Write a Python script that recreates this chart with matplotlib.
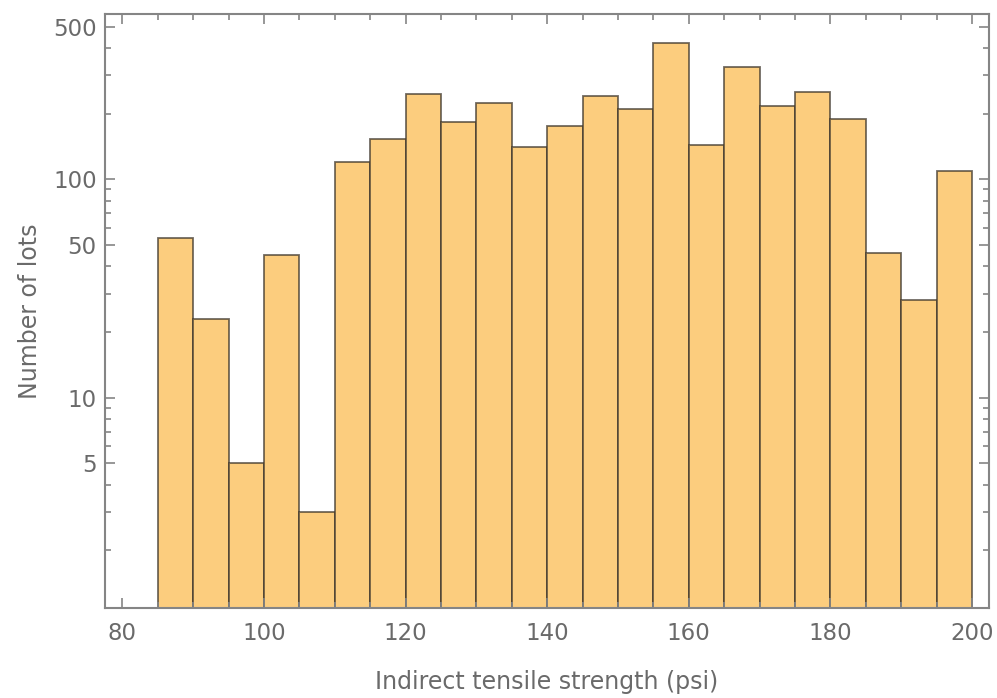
import numpy as np
import matplotlib
matplotlib.use('Agg')
import matplotlib.pyplot as plt
from matplotlib.ticker import FixedLocator, NullFormatter

# bin edges (psi) and counts
bin_left = [85, 90, 95, 100, 105, 110, 115, 120, 125, 130, 135, 140,
            145, 150, 155, 160, 165, 170, 175, 180, 185, 190, 195]
counts = [54, 23, 5, 45, 3, 120, 153, 246, 184, 224, 140, 175,
          241, 210, 421, 144, 326, 216, 252, 188, 46, 28, 109]
bin_width = 5

x_major = [80, 100, 120, 140, 160, 180, 200]
y_major = [5, 10, 50, 100, 500]
y_minor = [2, 3, 4, 6, 7, 8, 9, 20, 30, 40, 60, 70, 80, 90, 200, 300, 400]

axis_col = '#858585'
text_col = '#6a6a6a'

fig = plt.figure(figsize=(9.97, 6.98), dpi=100)
ax = fig.add_axes([0.1053, 0.129, 0.8867, 0.851])

ax.bar(bin_left, counts, width=bin_width, align='edge',
       color='#fccd7e', edgecolor=(0.25, 0.22, 0.18, 0.75), linewidth=1.3)

ax.set_yscale('log')
ax.set_xlim(77.55, 202.4)
ax.set_ylim(1.09, 572)

ax.xaxis.set_major_locator(FixedLocator(x_major))
ax.xaxis.set_minor_locator(FixedLocator([v for v in range(80, 205, 5) if v not in x_major]))
ax.yaxis.set_major_locator(FixedLocator(y_major))
ax.yaxis.set_minor_locator(FixedLocator(y_minor))
ax.set_yticklabels([str(v) for v in y_major])
ax.yaxis.set_minor_formatter(NullFormatter())

ax.tick_params(which='both', direction='in', top=True, right=True,
               color=axis_col, width=1.2, labelsize=16.5, labelcolor=text_col)
ax.tick_params(which='major', length=7, pad=6)
ax.tick_params(which='minor', length=4)
ax.tick_params(axis='x', which='major', pad=10)

for s in ax.spines.values():
    s.set_color(axis_col)
    s.set_linewidth(1.5)

ax.set_xlabel('Indirect tensile strength (psi)', fontsize=17, color=text_col, labelpad=18)
ax.set_ylabel('Number of lots', fontsize=17, color=text_col, labelpad=8)

fig.savefig('out.png', dpi=100)
